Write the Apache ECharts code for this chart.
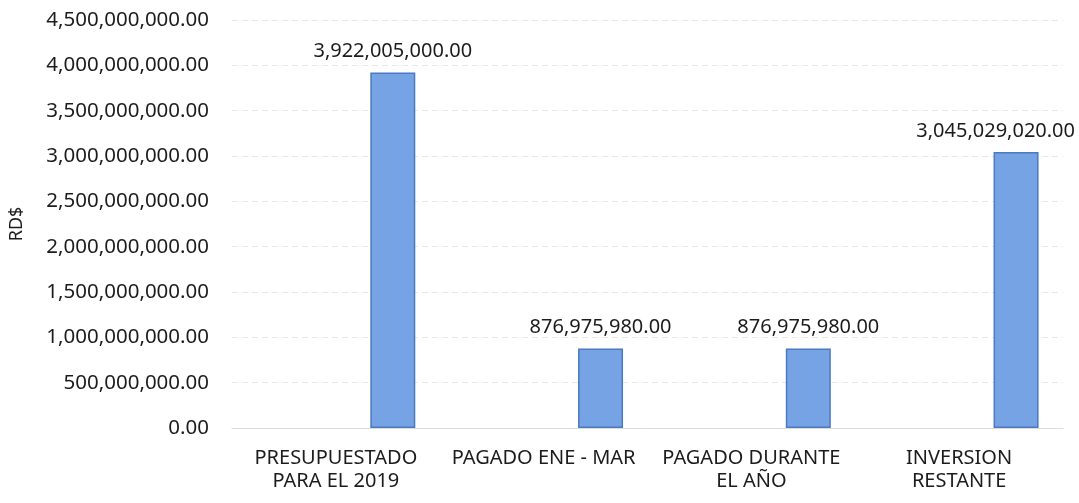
<!doctype html>
<html>
<head>
<meta charset="utf-8">
<script src="https://cdn.jsdelivr.net/npm/echarts@6/dist/echarts.min.js"></script>
<style>
  html, body { margin: 0; padding: 0; background: #fff; }
  #chart { width: 1079px; height: 503px; }
</style>
</head>
<body>
<div id="chart"></div>
<script>
var categories = ['PRESUPUESTADO\nPARA EL 2019', 'PAGADO ENE - MAR', 'PAGADO DURANTE\nEL AÑO', 'INVERSION\nRESTANTE']
var values = [3922005000, 876975980, 876975980, 3045029020]
var placeholder = [null, null, null, null]

function fmt(v) {
  return Number(v).toLocaleString('en-US', { minimumFractionDigits: 2, maximumFractionDigits: 2 })
}

var chart = echarts.init(document.getElementById('chart'))
var font = 'Noto Sans'
var ink = '#1c1c1c'

chart.setOption({
  animation: false,
  grid: { left: 227, right: 16, top: 20, bottom: 75, containLabel: false },
  xAxis: {
    type: 'category',
    data: categories,
    axisLine: { lineStyle: { color: '#dcdcdc' } },
    axisTick: { show: false },
    axisLabel: { interval: 0, hideOverlap: false, color: ink, fontFamily: font, fontSize: 20, lineHeight: 23, margin: 19 }
  },
  yAxis: {
    type: 'value',
    min: 0,
    max: 4500000000,
    interval: 500000000,
    name: 'RD$',
    nameLocation: 'middle',
    nameGap: 206,
    nameRotate: 90,
    nameTextStyle: { color: ink, fontFamily: font, fontSize: 18 },
    axisLine: { show: false },
    axisTick: { show: false },
    splitLine: { lineStyle: { color: '#e8e8e8', type: [6, 4] } },
    axisLabel: { color: ink, fontFamily: font, fontSize: 20.5, margin: 23, formatter: fmt }
  },
  series: [
    {
      type: 'bar',
      data: placeholder,
      barWidth: 45,
      barGap: '153%'
    },
    {
      type: 'bar',
      data: values,
      barWidth: 45,
      itemStyle: { color: '#76a3e4', borderColor: '#4b79c2', borderWidth: 1.5 },
      label: {
        show: true,
        position: 'top',
        distance: 11,
        color: ink,
        fontFamily: font,
        fontSize: 20,
        formatter: function (p) { return fmt(p.value) }
      },
      // keep labels inside the canvas, like Excel does
      labelLayout: function (p) {
        var r = p.labelRect
        var maxX = chart.getWidth() - 4
        if (r.x + r.width > maxX) {
          return { x: maxX - r.width, y: r.y, align: 'left', verticalAlign: 'top' }
        }
        return {}
      }
    }
  ]
})
</script>
</body>
</html>
